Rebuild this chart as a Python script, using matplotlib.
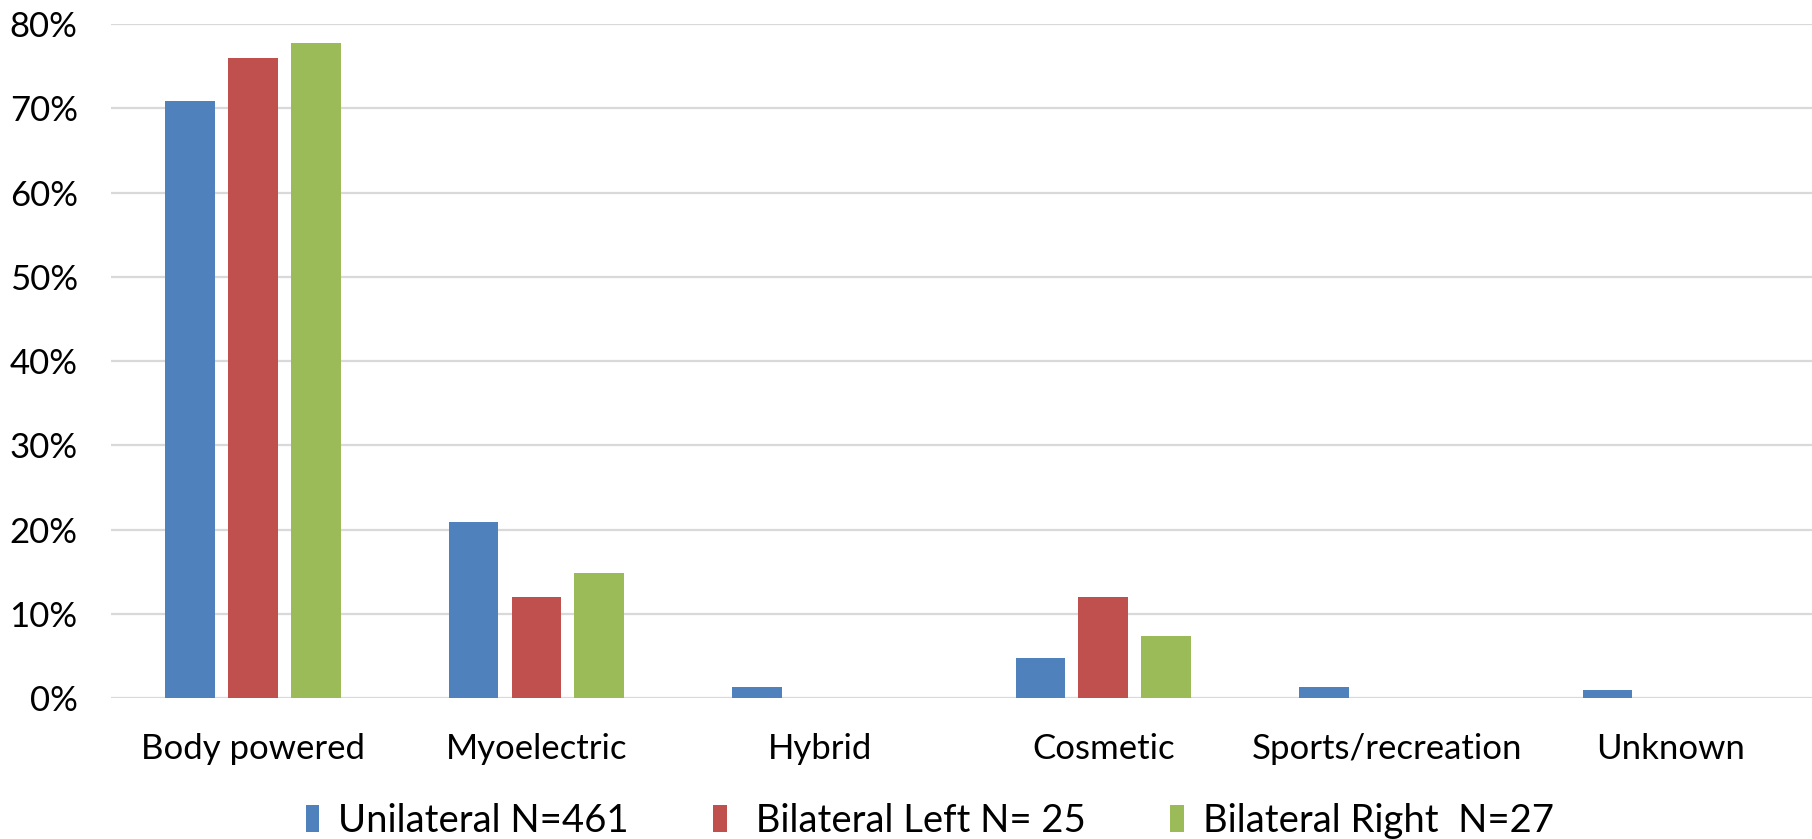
import numpy as np
import matplotlib
matplotlib.use("Agg")
import matplotlib.pyplot as plt
from matplotlib.ticker import FuncFormatter

plt.rcParams['font.family'] = ['Lato', 'DejaVu Sans']

# prosthesis type share per group
categories = ["Body powered", "Myoelectric", "Hybrid", "Cosmetic", "Sports/recreation", "Unknown"]
unilateral = [70.9, 20.9, 1.3, 4.8, 1.3, 0.9]
bilateral_left = [76.0, 12.0, 0.0, 12.0, 0.0, 0.0]
bilateral_right = [77.8, 14.8, 0.0, 7.4, 0.0, 0.0]
series_labels = ["Unilateral N=461", " Bilateral Left N= 25", "Bilateral Right  N=27"]
colors = ["#4F81BD", "#C0504D", "#9BBB59"]

fig = plt.figure(figsize=(18.12, 8.39), dpi=100)
ax = fig.add_axes([0.0613, 0.168, 0.9387, 0.8034])

x = np.arange(len(categories))
w = 0.175
step = 0.222
for i, (vals, lab, c) in enumerate(zip([unilateral, bilateral_left, bilateral_right], series_labels, colors)):
    ax.bar(x + (i - 1) * step, vals, width=w, color=c, label=lab, zorder=3)

ax.set_xlim(-0.5, len(categories) - 0.5)
ax.set_ylim(0, 80)
ax.set_yticks(np.arange(0, 81, 10))
ax.yaxis.set_major_formatter(FuncFormatter(lambda v, p: f"{v:.0f}%"))
ax.set_xticks(x)
ax.set_xticklabels(categories)
ax.tick_params(axis='y', length=0, pad=24, labelsize=25)
ax.tick_params(axis='x', length=0, pad=25, labelsize=25)
ax.grid(axis='y', color='#D9D9D9', linewidth=1.6, zorder=0)
for s in ax.spines.values():
    s.set_visible(False)

ax.legend(loc='center', bbox_to_anchor=(0.513, 0.022), bbox_transform=fig.transFigure,
          ncol=3, frameon=False, fontsize=27.5, handlelength=0.36, handleheight=0.72,
          handletextpad=0.5, columnspacing=2.2)

fig.savefig("out.png", dpi=100, facecolor='white')
